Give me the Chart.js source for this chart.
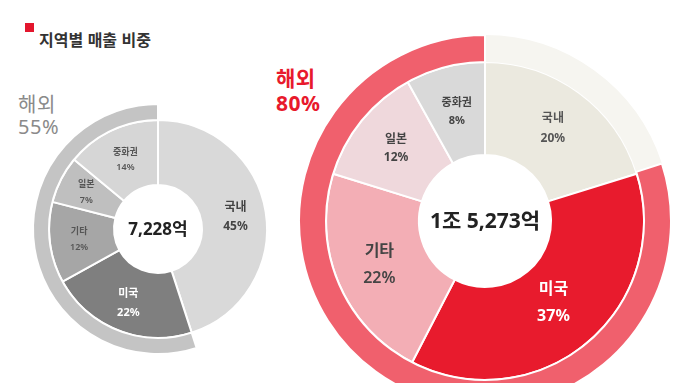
<!DOCTYPE html>
<html lang="ko">
<head>
<meta charset="utf-8">
<script src="https://cdn.jsdelivr.net/npm/chart.js@4/dist/chart.umd.min.js"></script>
<style>
  html, body { margin:0; padding:0; background:#fff; overflow:hidden; width:680px; height:383px; }
  body { position:relative; font-family:"Noto Sans","Noto Sans CJK KR",sans-serif; }
  #title { position:absolute; left:39px; top:28px; font-family:"Noto Sans CJK KR",sans-serif; font-size:16px; font-weight:700; color:#333; line-height:22px; white-space:nowrap; }
  #mark { position:absolute; left:25px; top:23px; width:9px; height:9px; background:#e3162d; }
  .ov { position:absolute; white-space:nowrap; line-height:22px; }
  #ovL { left:18px; top:94px; font-size:20px; color:#8a8a8a; letter-spacing:0.5px; }
  #ovR { left:276px; top:66px; font-size:21px; font-weight:700; color:#e8192c; line-height:25px; letter-spacing:0.5px; }
  canvas { position:absolute; }
  #cL { left:28px; top:99px; }
  #cR { left:295px; top:31px; }
</style>
</head>
<body>
<div id="mark"></div>
<div id="title">지역별 매출 비중</div>
<div class="ov" id="ovL"></div>
<div class="ov" id="ovR"></div>
<canvas id="cL" width="260" height="260"></canvas>
<canvas id="cR" width="380" height="380"></canvas>
<script>
// ---- data ----
const regions = ['국내', '미국', '기타', '일본', '중화권'];
const leftShare = [45, 22, 12, 7, 14];      // 7,228억
const rightShare = [20, 37, 22, 12, 8];     // 1조 5,273억
const ringParts = ['국내', '해외'];
const leftRing = [45, 55];
const rightRing = [20, 80];
const leftTotal = '7,228억';
const rightTotal = '1조 5,273억';

document.getElementById('ovL').innerHTML = ringParts[1] + '<br>' + leftRing[1] + '%';
document.getElementById('ovR').innerHTML = ringParts[1] + '<br>' + rightRing[1] + '%';

const FONT = '"Noto Sans", "Noto Sans CJK KR", sans-serif';

const labelPlugin = {
  id: 'segLabels',
  afterDatasetsDraw(chart, args, opts) {
    const ctx = chart.ctx;
    const meta = chart.getDatasetMeta(1);
    const labels = chart.data.labels;
    const values = chart.data.datasets[1].data;
    ctx.save();
    ctx.textAlign = 'center';
    ctx.textBaseline = 'middle';
    meta.data.forEach((arc, i) => {
      const p = arc.getProps(['x','y','startAngle','endAngle','innerRadius','outerRadius'], true);
      const mid = (p.startAngle + p.endAngle) / 2;
      const r = (p.innerRadius + p.outerRadius) / 2 + (opts.rOff ? opts.rOff[i] : 0);
      const cx = p.x + Math.cos(mid) * r;
      const cy = p.y + Math.sin(mid) * r;
      const fs = opts.sizes[i];
      const gap = opts.gaps[i];
      ctx.fillStyle = opts.colors[i];
      ctx.font = opts.weights[i] + ' ' + fs + 'px ' + FONT;
      ctx.fillText(labels[i], cx, cy - gap / 2);
      ctx.fillText(values[i] + '%', cx, cy + gap / 2);
    });
    // center text
    const a0 = meta.data[0];
    ctx.fillStyle = '#222';
    ctx.font = '700 ' + opts.centerSize + 'px ' + FONT;
    ctx.fillText(opts.center, a0.x, a0.y + 1);
    ctx.restore();
  }
};

function makeChart(id, share, ring, ringColors, colors, radius, cutout, wOuter, wInner, lab) {
  return new Chart(document.getElementById(id), {
    type: 'doughnut',
    data: {
      labels: regions,
      datasets: [
        { data: ring, backgroundColor: ringColors, borderColor: '#fff', borderWidth: [0, 2], weight: wOuter },
        { data: share, backgroundColor: colors, borderColor: '#fff', borderWidth: 2, weight: wInner }
      ]
    },
    options: {
      responsive: false,
      animation: false,
      radius: radius,
      cutout: cutout,
      plugins: { legend: { display: false }, tooltip: { enabled: false }, segLabels: lab }
    },
    plugins: [labelPlugin]
  });
}

makeChart('cL', leftShare, leftRing, ['rgba(0,0,0,0)', '#c4c4c4'],
  ['#d9d9d9', '#7f7f7f', '#a6a6a6', '#bfbfbf', '#d6d6d6'],
  125, '35.2%', 16, 65,
  { sizes: [12, 11, 9, 9, 9], gaps: [19, 19, 16, 16, 15], weights: ['700','700','600','600','600'],
    colors: ['#444', '#fff', '#555', '#555', '#555'], rOff: [2, 4, 3, 4, 0],
    center: leftTotal, centerSize: 17 });

makeChart('cR', rightShare, rightRing, ['#f6f5f0', '#f0606d'],
  ['#ebe9df', '#e81b2d', '#f3aeb5', '#efd8dc', '#d9d9d9'],
  186, '35.5%', 27, 93,
  { sizes: [12, 16, 16, 12, 11], gaps: [20, 27, 27, 18, 18], weights: ['700','700','600','700','700'],
    colors: ['#555', '#fff', '#444', '#444', '#444'], rOff: [2, -6, 2, 2, 0],
    center: rightTotal, centerSize: 21 });
</script>
</body>
</html>
